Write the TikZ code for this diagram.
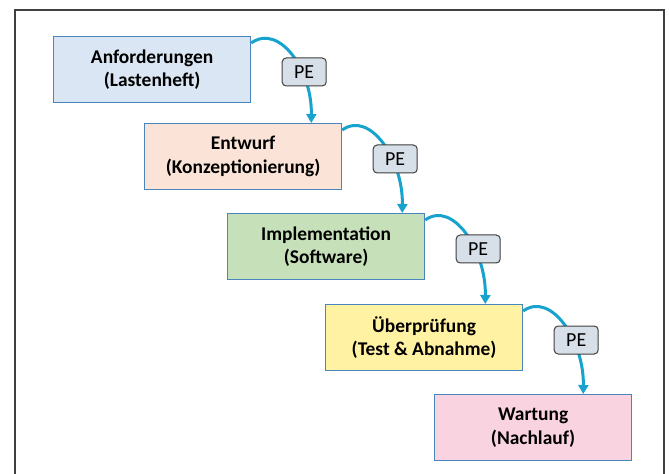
\documentclass[tikz,border=0pt]{standalone}
\usepackage{fontspec}
\setmainfont{Carlito}
\usetikzlibrary{arrows.meta}
\definecolor{bluefill}{HTML}{DAE6F3}
\definecolor{peachfill}{HTML}{FBE4D7}
\definecolor{greenfill}{HTML}{C6E0B9}
\definecolor{yellowfill}{HTML}{FFF2A3}
\definecolor{pinkfill}{HTML}{F9D3DF}
\definecolor{boxline}{HTML}{4A86BD}
\definecolor{arrowcol}{HTML}{17A3CD}
\definecolor{pefill}{HTML}{D7DFE8}
\definecolor{peline}{HTML}{3F3F3F}
\definecolor{frameline}{HTML}{404040}
\tikzset{
  phase/.style={draw=boxline, line width=1.2bp, minimum width=197bp, minimum height=66bp,
    inner sep=0pt, anchor=north west, align=center,
    font=\fontsize{19.5}{23.5}\selectfont\bfseries},
  pebox/.style={draw=peline, fill=pefill, line width=1bp, rounded corners=4bp,
    minimum width=44bp, minimum height=28bp, inner sep=0pt,
    font=\fontsize{20}{22}\selectfont},
  flow/.style={draw=arrowcol, line width=3bp, -{Triangle[length=9bp,width=10bp]}}
}
\begin{document}
\begin{tikzpicture}[x=1bp,y=-1bp]
\useasboundingbox (0,0) rectangle (669,474);
\fill[white] (0,0) rectangle (669,474);
\draw[frameline, line width=1.6bp] (15,474) -- (15,10) -- (664,10) -- (664,474);

\node[phase, fill=bluefill]   (b1) at (53,36)   {Anforderungen\\(Lastenheft)};
\node[phase, fill=peachfill]  (b2) at (144,123) {Entwurf\\(Konzeptionierung)};
\node[phase, fill=greenfill]  (b3) at (227,213) {Implementation\\(Software)};
\node[phase, fill=yellowfill] (b4) at (325,304) {Überprüfung\\(Test \& Abnahme)};
\node[phase, fill=pinkfill]   (b5) at (434,394) {Wartung\\(Nachlauf)};

\foreach \a/\b in {b1/b2,b2/b3,b3/b4,b4/b5}{
  \coordinate (s\a) at ([shift={(0,7)}]\a.north east);
  \coordinate (e\a) at ([shift={(60,0)}]\a.north east |- \b.north);
  \draw[flow] (s\a) .. controls +(28,-20) and +(1,-53) .. (e\a);
  \node[pebox] (pe\a) at ([shift={(53,36)}]\a.north east) {PE};
}
\end{tikzpicture}
\end{document}
